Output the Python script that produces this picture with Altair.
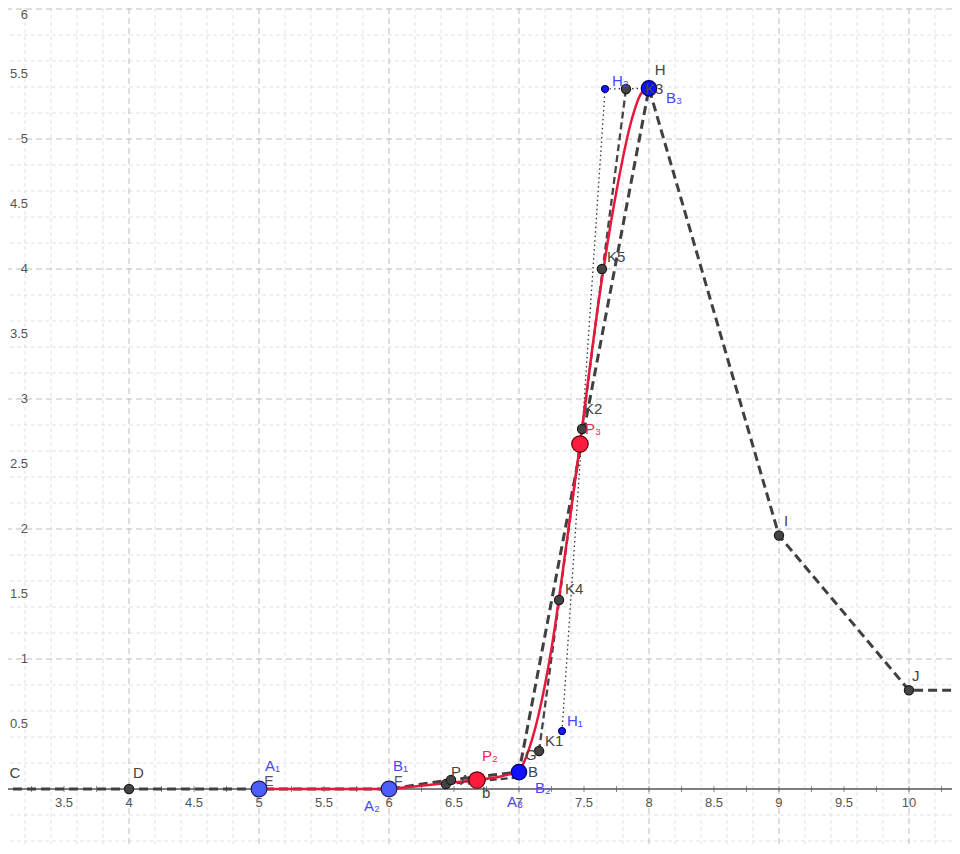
import altair as alt
import pandas as pd

# ---------------- view ----------------
X_DOMAIN = [3.069, 10.331]
Y_DOMAIN = [-0.423, 6.008]
W, H = 944, 836

# ---------------- grid / ticks ----------------
x_major = [4, 5, 6, 7, 8, 9, 10]
y_major = [1, 2, 3, 4, 5, 6]
x_minor = [3.2, 3.4, 3.6, 3.8, 4.2, 4.4, 4.6, 4.8, 5.2, 5.4, 5.6, 5.8,
           6.2, 6.4, 6.6, 6.8, 7.2, 7.4, 7.6, 7.8, 8.2, 8.4, 8.6, 8.8,
           9.2, 9.4, 9.6, 9.8, 10.2]
y_minor = [-0.4, -0.2, 0.2, 0.4, 0.6, 0.8, 1.2, 1.4, 1.6, 1.8, 2.2, 2.4,
           2.6, 2.8, 3.2, 3.4, 3.6, 3.8, 4.2, 4.4, 4.6, 4.8, 5.2, 5.4,
           5.6, 5.8]
x_tick_marks = [3.25, 3.5, 3.75, 4, 4.25, 4.5, 4.75, 5, 5.25, 5.5, 5.75, 6,
                6.25, 6.5, 6.75, 7, 7.25, 7.5, 7.75, 8, 8.25, 8.5, 8.75, 9,
                9.25, 9.5, 9.75, 10, 10.25]
x_label_vals = [3.5, 4, 4.5, 5, 5.5, 6, 6.5, 7, 7.5, 8, 8.5, 9, 9.5, 10]
x_label_text = ["3.5", "4", "4.5", "5", "5.5", "6", "6.5", "7", "7.5", "8",
                "8.5", "9", "9.5", "10"]
y_label_vals = [0.5, 1, 1.5, 2, 2.5, 3, 3.5, 4, 4.5, 5, 5.5]
y_label_text = ["0.5", "1", "1.5", "2", "2.5", "3", "3.5", "4", "4.5", "5",
                "5.5"]
y_top_val = [6]
y_top_text = ["6"]

# ---------------- data ----------------
# main dashed polyline C D E F A B H I J ...
main_x = [3, 4, 5, 6, 6.47, 7, 8, 9, 10, 10.4]
main_y = [0, 0, 0, 0, 0.07, 0.13, 5.39, 1.95, 0.76, 0.76]

# thin dashed construction lines
con_series = ["k", "k", "k", "p", "p"]
con_x = [7.154, 7.485, 7.823, 6.438, 7.0]
con_y = [0.292, 2.769, 5.385, 0.038, 0.09]

# dotted control polygon H1 H2 H
dot_x = [7.331, 7.662, 8.0]
dot_y = [0.446, 5.385, 5.39]

# red curve segments
red_seg = (["s1"] * 2 + ["s2"] * 6 + ["s3"] * 11)
red_x = [5, 6,
         6, 6.25, 6.45, 6.68, 6.85, 7,
         7, 7.04, 7.12, 7.25, 7.37, 7.47, 7.62, 7.75, 7.87, 7.94, 8.0]
red_y = [0, 0,
         0, 0.025, 0.046, 0.07, 0.095, 0.13,
         0.13, 0.21, 0.45, 1.08, 1.92, 2.66, 3.8, 4.6, 5.16, 5.35, 5.39]

# points
black_x = [3, 4, 6.438, 6.477, 7.154, 7.308, 7.485, 7.638, 7.823, 9, 10]
black_y = [0, 0, 0.038, 0.069, 0.292, 1.454, 2.769, 4.0, 5.385, 1.95, 0.76]
blue_small_x = [7.331, 7.662]
blue_small_y = [0.446, 5.385]
blue_light_x = [5, 6]
blue_light_y = [0, 0]
blue_dark_x = [7, 8]
blue_dark_y = [0.13, 5.39]
red_pt_x = [6.677, 7.469]
red_pt_y = [0.069, 2.654]

# labels
under_text = ["E", "F"]
under_x = [5.04, 6.038]
under_y = [0.055, 0.055]
gray_text = ["C", "D", "P", "A", "b", "B", "G", "K1", "K4", "K2", "K5", "H",
             "K3", "I", "J"]
gray_x = [3.08, 4.031, 6.477, 6.546, 6.715, 7.069, 7.046, 7.2, 7.354, 7.5,
          7.677, 8.045, 7.969, 9.038, 10.023]
gray_y = [0.123, 0.123, 0.131, 0.069, -0.031, 0.131, 0.26, 0.369, 1.538,
          2.92, 4.092, 5.53, 5.385, 2.062, 0.869]
blue_text = ["A₁", "B₁", "A₂", "A₃", "B₂", "H₁", "H₂", "B₃"]
blue_x = [5.046, 6.031, 5.808, 6.908, 7.123, 7.369, 7.715, 8.131]
blue_y = [0.177, 0.177, -0.131, -0.1, 0.008, 0.523, 5.446, 5.315]
red_text = ["P₂", "P₃"]
red_lx = [6.715, 7.508]
red_ly = [0.254, 2.77]

# ---------------- helpers ----------------
xs = alt.Scale(domain=X_DOMAIN, nice=False, zero=False)
ys = alt.Scale(domain=Y_DOMAIN, nice=False, zero=False)


def X(f="x"):
    return alt.X(f"{f}:Q", scale=xs, axis=None)


def Y(f="y"):
    return alt.Y(f"{f}:Q", scale=ys, axis=None)


FONT = "Liberation Sans"

layers = []

# minor grid
layers.append(alt.Chart(pd.DataFrame({"x": x_minor})).mark_rule(
    color="#e3e3e3", strokeWidth=1, strokeDash=[4, 3]).encode(x=X()))
layers.append(alt.Chart(pd.DataFrame({"y": y_minor})).mark_rule(
    color="#e3e3e3", strokeWidth=1, strokeDash=[4, 3]).encode(y=Y()))
# major grid
layers.append(alt.Chart(pd.DataFrame({"x": x_major})).mark_rule(
    color="#bdbdbd", strokeWidth=1, strokeDash=[6, 4]).encode(x=X()))
layers.append(alt.Chart(pd.DataFrame({"y": y_major})).mark_rule(
    color="#bdbdbd", strokeWidth=1, strokeDash=[6, 4]).encode(y=Y()))
# x axis line
layers.append(alt.Chart(pd.DataFrame({"y": [0]})).mark_rule(
    color="#555555", strokeWidth=1.5).encode(y=Y()))
# tick marks
layers.append(alt.Chart(pd.DataFrame({"x": x_tick_marks, "y": [0] * len(x_tick_marks)}))
              .mark_tick(orient="vertical", size=6, thickness=1, color="#555555")
              .encode(x=X(), y=Y()))
# tick labels
layers.append(alt.Chart(pd.DataFrame({"x": x_label_vals, "y": [0] * len(x_label_vals),
                                      "t": x_label_text}))
              .mark_text(dy=14, align="center", baseline="middle", fontSize=13,
                         font=FONT, color="#555555")
              .encode(x=X(), y=Y(), text="t:N"))
layers.append(alt.Chart(pd.DataFrame({"y": y_label_vals, "t": y_label_text}))
              .mark_text(align="right", baseline="middle", fontSize=13,
                         font=FONT, color="#555555")
              .encode(x=alt.value(20), y=Y(), text="t:N"))
layers.append(alt.Chart(pd.DataFrame({"y": y_top_val, "t": y_top_text}))
              .mark_text(align="right", baseline="middle", dy=6, fontSize=13,
                         font=FONT, color="#555555")
              .encode(x=alt.value(20), y=Y(), text="t:N"))

# dotted control polygon
layers.append(alt.Chart(pd.DataFrame({"x": dot_x, "y": dot_y, "o": range(len(dot_x))}))
              .mark_line(color="#333333", strokeWidth=1.3, strokeDash=[1.5, 3], clip=True)
              .encode(x=X(), y=Y(), order="o:Q"))
# thin dashed construction lines
layers.append(alt.Chart(pd.DataFrame({"x": con_x, "y": con_y, "s": con_series,
                                      "o": range(len(con_x))}))
              .mark_line(color="#444444", strokeWidth=2.3, strokeDash=[7, 4], clip=True)
              .encode(x=X(), y=Y(), detail="s:N", order="o:Q"))
# main dashed line
layers.append(alt.Chart(pd.DataFrame({"x": main_x, "y": main_y, "o": range(len(main_x))}))
              .mark_line(color="#404040", strokeWidth=3, strokeDash=[9, 5], clip=True)
              .encode(x=X(), y=Y(), order="o:Q"))
# red curve
layers.append(alt.Chart(pd.DataFrame({"x": red_x, "y": red_y, "s": red_seg,
                                      "o": range(len(red_x))}))
              .mark_line(color="#e8173c", strokeWidth=2.5, interpolate="monotone", clip=True)
              .encode(x=X(), y=Y(), detail="s:N", order="o:Q"))

# labels hidden under points
layers.append(alt.Chart(pd.DataFrame({"x": under_x, "y": under_y, "t": under_text}))
              .mark_text(align="left", baseline="middle", fontSize=14, font=FONT,
                         color="#555555")
              .encode(x=X(), y=Y(), text="t:N"))

# points
def pts(xv, yv, size, fill, stroke, sw=1.2):
    return (alt.Chart(pd.DataFrame({"x": xv, "y": yv}))
            .mark_circle(size=size, color=fill, opacity=1, stroke=stroke,
                         strokeWidth=sw, clip=True)
            .encode(x=X(), y=Y()))

layers.append(pts(black_x, black_y, 85, "#444444", "#1a1a1a"))
layers.append(pts(blue_small_x, blue_small_y, 48, "#1515ff", "#00007a"))
layers.append(pts(blue_light_x, blue_light_y, 250, "#4d5eff", "#1a1a55"))
layers.append(pts(blue_dark_x, blue_dark_y, 240, "#1010ff", "#00005a"))
layers.append(pts(red_pt_x, red_pt_y, 270, "#ff1a40", "#5a0000"))

# labels
def labels(tv, xv, yv, color):
    return (alt.Chart(pd.DataFrame({"x": xv, "y": yv, "t": tv}))
            .mark_text(align="left", baseline="middle", fontSize=15, font=FONT,
                       color=color)
            .encode(x=X(), y=Y(), text="t:N"))

layers.append(labels(gray_text, gray_x, gray_y, "#444444"))
layers.append(labels(blue_text, blue_x, blue_y, "#4646ff"))
layers.append(labels(red_text, red_lx, red_ly, "#f0264b"))

chart = (alt.layer(*layers)
         .properties(width=W, height=H, padding=0,
                     autosize=alt.AutoSizeParams(type="none"))
         .configure_view(stroke=None))

chart.save("out.html", embed_options={"renderer": "svg", "actions": False})
